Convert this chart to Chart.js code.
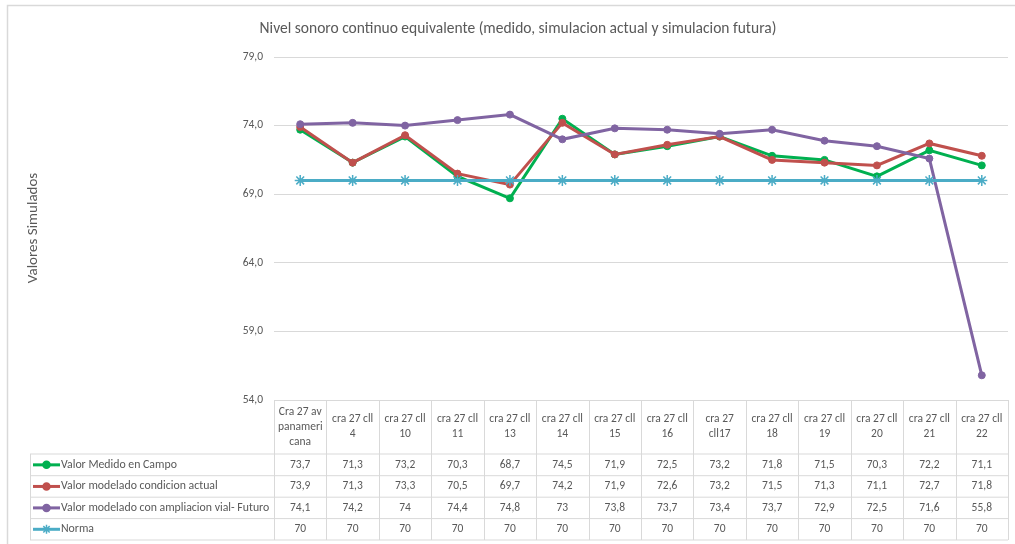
<!DOCTYPE html>
<html>
<head>
<meta charset="utf-8">
<script src="https://cdn.jsdelivr.net/npm/chart.js@4"></script>
<style>
  html, body { margin: 0; padding: 0; background: #fff; }
  #wrap { width: 1015px; height: 544px; position: relative; }
</style>
</head>
<body>
<div id="wrap"><canvas id="chart" width="1015" height="544"></canvas></div>
<script>
// categories, already broken the way Excel wraps them in the data table
const categories = [
    ['Cra 27 av', 'panameri', 'cana'], ['cra 27 cll', '4'], ['cra 27 cll', '10'], ['cra 27 cll', '11'],
    ['cra 27 cll', '13'], ['cra 27 cll', '14'], ['cra 27 cll', '15'], ['cra 27 cll', '16'],
    ['cra 27', 'cll17'], ['cra 27 cll', '18'], ['cra 27 cll', '19'], ['cra 27 cll', '20'],
    ['cra 27 cll', '21'], ['cra 27 cll', '22']
];
const medido = [73.7, 71.3, 73.2, 70.3, 68.7, 74.5, 71.9, 72.5, 73.2, 71.8, 71.5, 70.3, 72.2, 71.1];
const actual = [73.9, 71.3, 73.3, 70.5, 69.7, 74.2, 71.9, 72.6, 73.2, 71.5, 71.3, 71.1, 72.7, 71.8];
const futuro = [74.1, 74.2, 74, 74.4, 74.8, 73, 73.8, 73.7, 73.4, 73.7, 72.9, 72.5, 71.6, 55.8];
const norma = [70, 70, 70, 70, 70, 70, 70, 70, 70, 70, 70, 70, 70, 70];
const yTicks = [54, 59, 64, 69, 74, 79];

const FONT = '"Carlito", "Lato", "Liberation Sans", sans-serif';
const TXT = '#595959';
const LINE = '#d9d9d9';

const fmt = v => String(v).replace('.', ',');

function mkSet(label, data, color, style, order) {
    return {
        label, data, order,
        borderColor: color,
        backgroundColor: color,
        borderWidth: 3,
        pointStyle: style,
        pointRadius: style === 'star' ? 5.5 : 3.5,
        pointBorderWidth: style === 'star' ? 1.5 : 1,
        pointBorderColor: color,
        pointBackgroundColor: color,
        tension: 0
    };
}

const datasets = [
    mkSet('Valor Medido en Campo', medido, '#00b050', 'circle', 4),
    mkSet('Valor modelado condicion actual', actual, '#c0504d', 'circle', 3),
    mkSet('Valor modelado con ampliacion vial- Futuro', futuro, '#8064a2', 'circle', 2),
    mkSet('Norma', norma, '#4bacc6', 'star', 1)
];

const extras = {
    id: 'extras',
    afterDraw(chart) {
        const ctx = chart.ctx;
        const area = chart.chartArea;
        const x = chart.scales.x;
        const n = categories.length;
        const w = (area.right - area.left) / n;
        ctx.save();

        // frame
        ctx.strokeStyle = LINE;
        ctx.lineWidth = 1.5;
        ctx.beginPath();
        ctx.moveTo(7.5, 544);
        ctx.lineTo(7.5, 5.5);
        ctx.lineTo(1015, 5.5);
        ctx.stroke();

        // title
        ctx.fillStyle = TXT;
        ctx.textAlign = 'center';
        ctx.textBaseline = 'middle';
        ctx.font = '15.5px ' + FONT;
        ctx.fillText('Nivel sonoro continuo equivalente (medido, simulacion actual y simulacion futura)', 518, 29);

        // y title
        ctx.save();
        ctx.translate(33, 228);
        ctx.rotate(-Math.PI / 2);
        ctx.font = '15px ' + FONT;
        ctx.fillText('Valores Simulados', 0, 0);
        ctx.restore();

        // data table grid
        const top = area.bottom;
        const rows = [454, 475.7, 497.2, 518.6, 540];
        ctx.strokeStyle = LINE;
        ctx.lineWidth = 1;
        ctx.beginPath();
        for (let k = 0; k <= n; k++) {
            const px = Math.round(area.left + k * w) + 0.5;
            ctx.moveTo(px, top);
            ctx.lineTo(px, rows[rows.length - 1]);
        }
        rows.forEach(r => { ctx.moveTo(30, r); ctx.lineTo(area.right, r); });
        ctx.moveTo(30.5, rows[0]);
        ctx.lineTo(30.5, rows[rows.length - 1]);
        ctx.stroke();

        // header labels
        ctx.font = '11.5px ' + FONT;
        ctx.fillStyle = TXT;
        const midH = (top + rows[0]) / 2;
        categories.forEach((lines, i) => {
            const cx = x.getPixelForValue(i);
            const y0 = midH - (lines.length - 1) * 15 / 2;
            lines.forEach((t, j) => ctx.fillText(t, cx, y0 + j * 15));
        });

        // value rows + legend keys
        const series = [medido, actual, futuro, norma];
        series.forEach((vals, r) => {
            const cy = (rows[r] + rows[r + 1]) / 2;
            const ds = datasets[r];
            ctx.font = '11.5px ' + FONT;
            ctx.textAlign = 'center';
            ctx.fillStyle = TXT;
            vals.forEach((v, i) => ctx.fillText(fmt(v), x.getPixelForValue(i), cy));

            ctx.strokeStyle = ds.borderColor;
            ctx.fillStyle = ds.borderColor;
            ctx.lineWidth = 3;
            ctx.beginPath();
            ctx.moveTo(33, cy);
            ctx.lineTo(60, cy);
            ctx.stroke();
            ctx.lineWidth = 1.5;
            Chart.helpers.drawPoint(ctx, {
                pointStyle: ds.pointStyle,
                radius: ds.pointStyle === 'star' ? 4.5 : 3.5,
                borderWidth: 1.5,
                rotation: 0
            }, 46.5, cy);

            ctx.font = '11.8px ' + FONT;
            ctx.textAlign = 'left';
            ctx.fillStyle = TXT;
            ctx.fillText(ds.label, 61, cy);
        });

        ctx.restore();
    }
};

new Chart(document.getElementById('chart'), {
    type: 'line',
    data: { labels: categories.map(l => l.join(' ')), datasets },
    options: {
        responsive: false,
        animation: false,
        layout: { padding: { top: 57, bottom: 144, left: 0, right: 0 } },
        plugins: { legend: { display: false }, tooltip: { enabled: false }, title: { display: false } },
        scales: {
            x: { display: false, offset: true },
            y: {
                min: 54, max: 79,
                afterFit: s => { s.width = 274; },
                afterBuildTicks: s => { s.ticks = yTicks.map(v => ({ value: v })); },
                border: { display: false },
                grid: { color: LINE, drawTicks: false, lineWidth: 1 },
                ticks: {
                    padding: 11,
                    color: TXT,
                    font: { family: FONT, size: 11.5 },
                    callback: v => v.toFixed(1).replace('.', ',')
                }
            }
        }
    },
    plugins: [extras]
});
</script>
</body>
</html>
